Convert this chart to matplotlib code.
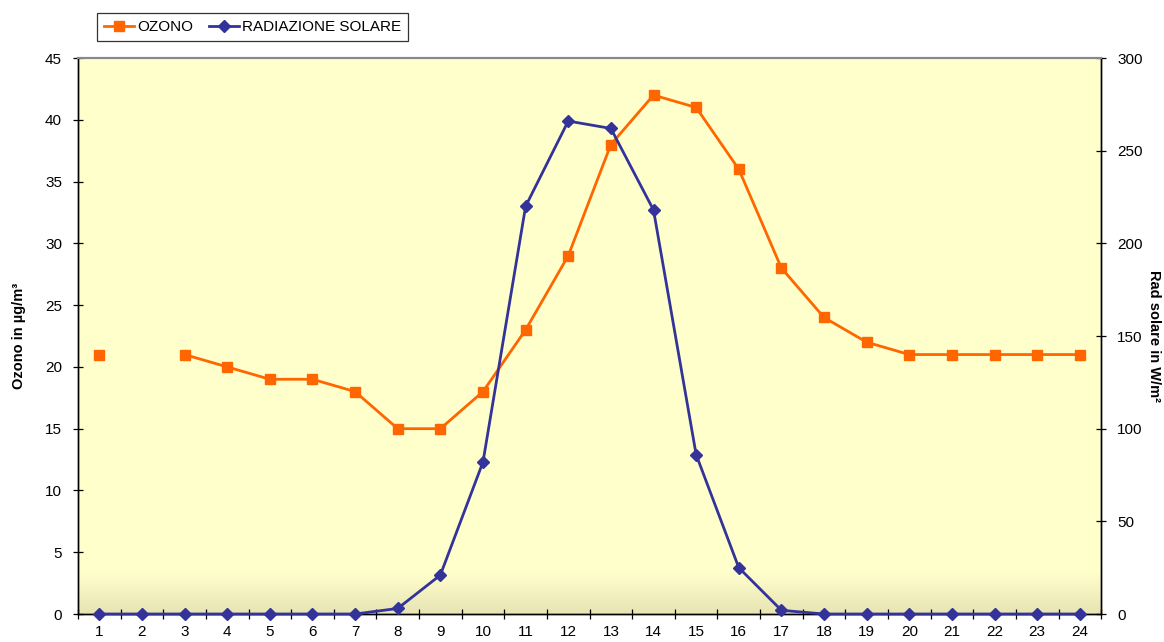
import numpy as np
import matplotlib
matplotlib.use("Agg")
import matplotlib.pyplot as plt
from matplotlib.colors import LinearSegmentedColormap

plt.rcParams["font.family"] = ["Liberation Sans", "DejaVu Sans"]

hours = list(range(1, 25))
ozono = [21, np.nan, 21, 20, 19, 19, 18, 15, 15, 18, 23, 29, 38, 42, 41, 36,
         28, 24, 22, 21, 21, 21, 21, 21]
radiazione = [0, 0, 0, 0, 0, 0, 0, 3, 21, 82, 220, 266, 262, 218, 86, 25,
              2, 0, 0, 0, 0, 0, 0, 0]

ORANGE = "#FF6600"
NAVY = "#333399"

fig = plt.figure(figsize=(11.64, 6.42), dpi=100)
ax = fig.add_axes([0.067, 0.0436, 0.879, 0.866])
ax.set_facecolor("#FFFFCC")

# soft gradient near the floor of the plot area
cmap = LinearSegmentedColormap.from_list("floor", ["#FFFFCC", "#E8E4B4"])
grad = np.linspace(0, 1, 100).reshape(-1, 1)
ax.imshow(grad, extent=[0, 1, 0, 0.075], transform=ax.transAxes,
          aspect="auto", cmap=cmap, origin="upper", zorder=0)

ax2 = ax.twinx()

(l1,) = ax.plot(hours, ozono, color=ORANGE, lw=2.0, marker="s", ms=6.5,
                mec=ORANGE, label="OZONO", zorder=3, clip_on=False)
(l2,) = ax2.plot(hours, radiazione, color=NAVY, lw=2.0, marker="D", ms=6.5,
                 mec=NAVY, label="RADIAZIONE SOLARE", zorder=3, clip_on=False)

ax.set_xlim(0.5, 24.5)
ax.set_ylim(0, 45)
ax2.set_ylim(0, 300)
ax.set_yticks(range(0, 46, 5))
ax2.set_yticks(range(0, 301, 50))
ax.set_xticks(hours)
ax.set_xticks(np.arange(0.5, 25, 1), minor=True)
ax.tick_params(axis="x", which="major", length=0, labelsize=11, pad=8)
ax.tick_params(axis="x", which="minor", length=7, direction="inout", width=0.9)
ax.tick_params(axis="y", length=7, direction="inout", labelsize=11, width=0.9,
               pad=8)
ax2.tick_params(axis="y", length=7, direction="inout", labelsize=11, width=0.9,
                pad=8)

for a in (ax, ax2):
    a.spines["top"].set_color("#888888")
    a.spines["top"].set_linewidth(1.5)
    for s in ("left", "right", "bottom"):
        a.spines[s].set_color("black")
        a.spines[s].set_linewidth(1.0)

ax.set_ylabel("Ozono in µg/m³", fontweight="bold", fontsize=10.5, labelpad=14)
ax2.set_ylabel("Rad solare in W/m²", fontweight="bold", fontsize=10.5,
               rotation=-90, labelpad=13)

leg = fig.legend(handles=[l1, l2], loc="upper left", ncol=2,
                 bbox_to_anchor=(97 / 1164, 1 - 13 / 642), borderaxespad=0,
                 fancybox=False, edgecolor="black", fontsize=11,
                 handlelength=2.0, columnspacing=1.0, borderpad=0.45,
                 handletextpad=0.2)
leg.get_frame().set_linewidth(0.9)

fig.savefig("out.png", dpi=100)
